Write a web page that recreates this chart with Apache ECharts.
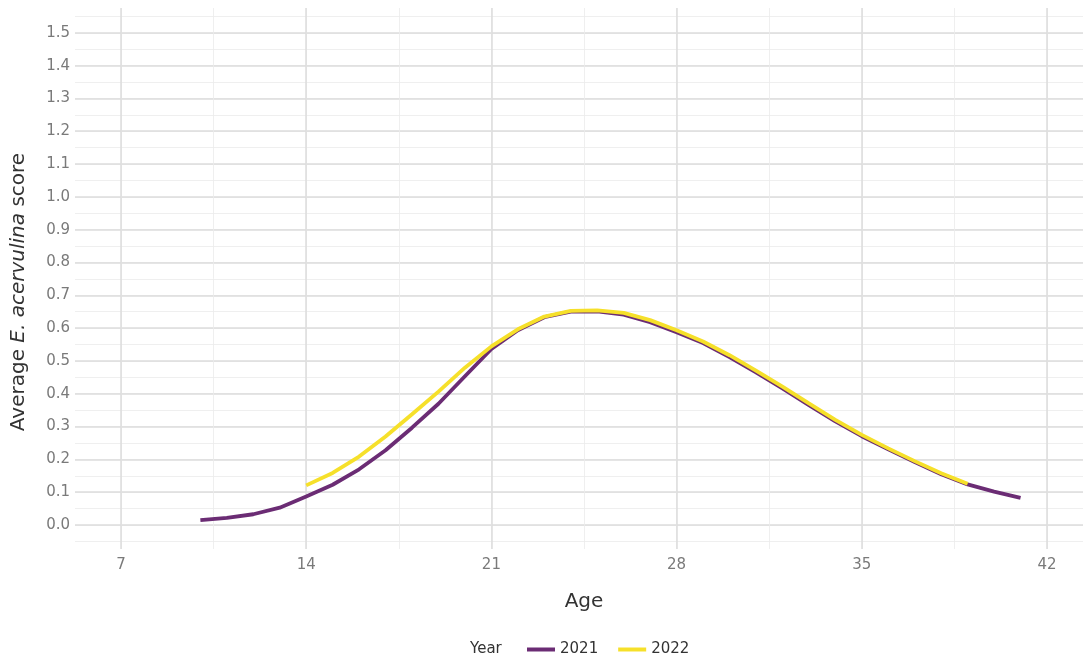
<!DOCTYPE html>
<html>
<head>
<meta charset="utf-8">
<script src="https://cdn.jsdelivr.net/npm/echarts@6/dist/echarts.min.js"></script>
<style>
html,body{margin:0;padding:0;background:#fff;}
#chart{width:1083px;height:659px;}
</style>
</head>
<body>
<div id="chart"></div>
<script>
// ---- data ----
const ages2021 = [10,11,12,13,14,15,16,17,18,19,20,21,22,23,24,25,26,27,28,29,30,31,32,33,34,35,36,37,38,39,40,41];
const score2021 = [0.013,0.020,0.031,0.051,0.085,0.121,0.168,0.226,0.295,0.368,0.452,0.535,0.592,0.632,0.649,0.650,0.640,0.617,0.586,0.553,0.510,0.464,0.415,0.364,0.314,0.269,0.229,0.190,0.153,0.122,0.100,0.081];
const ages2022 = [14,15,16,17,18,19,20,21,22,23,24,25,26,27,28,29,30,31,32,33,34,35,36,37,38,39];
const score2022 = [0.119,0.157,0.207,0.268,0.336,0.405,0.478,0.543,0.595,0.634,0.651,0.653,0.645,0.623,0.592,0.558,0.516,0.469,0.420,0.369,0.319,0.273,0.232,0.193,0.156,0.124];
const yearLabels = ['2021','2022'];
const xTitle = 'Age';
const yTitle = 'Average {i|E. acervulina} score';
const legendTitle = 'Year';

const FONT = 'DejaVu Sans';
const colors = ['#6b2c74','#f6e02a'];
const MAJOR = {color:'#dcdcdc', width:1.5};
const MINOR = {color:'#ebebeb', width:0.8};

const chart = echarts.init(document.getElementById('chart'), null, {renderer:'canvas'});

const noLine = {axisLine:{show:false}, axisTick:{show:false}};

const option = {
  backgroundColor:'#ffffff',
  animation:false,
  textStyle:{fontFamily:FONT},
  grid:[
    // horizontal gridlines + y labels (full panel width); y range -0.1..1.6
    {left:75, right:-10, top:-0.8, bottom:101.2, containLabel:false},
    // vertical gridlines + x labels + data; x range 7..42, y range -0.075..1.575
    {left:121, right:36, top:8, bottom:110, containLabel:false}
  ],
  xAxis:[
    {gridIndex:0, type:'value', min:0, max:1, show:false},
    Object.assign({gridIndex:1, type:'value', position:'bottom', min:7, max:42, interval:3.5,
      axisLabel:{show:false},
      splitLine:{show:true, lineStyle:MINOR}}, noLine),
    Object.assign({gridIndex:1, type:'value', position:'bottom', min:7, max:42, interval:7,
      name:xTitle, nameLocation:'middle', nameGap:43,
      nameTextStyle:{fontFamily:FONT, fontSize:20, color:'#333333'},
      axisLabel:{show:true, margin:9, fontSize:15, color:'#7a7a7a', fontFamily:FONT},
      splitLine:{show:true, lineStyle:MAJOR}}, noLine)
  ],
  yAxis:[
    Object.assign({gridIndex:0, type:'value', position:'left', min:-0.1, max:1.6, interval:0.05,
      axisLabel:{show:false},
      splitLine:{show:true, showMinLine:false, showMaxLine:false, lineStyle:MINOR}}, noLine),
    Object.assign({gridIndex:0, type:'value', position:'left', min:-0.1, max:1.6, interval:0.1,
      axisLabel:{show:true, showMinLabel:false, showMaxLabel:false, margin:5, fontSize:15, color:'#7a7a7a', fontFamily:FONT,
        formatter:function(v){return v.toFixed(1);}},
      splitLine:{show:true, showMinLine:false, showMaxLine:false, lineStyle:MAJOR}}, noLine),
    {gridIndex:1, type:'value', min:-0.075, max:1.575, show:false, splitLine:{show:false}}
  ],
  legend:{
    show:true, left:527, top:642, orient:'horizontal', padding:0,
    icon:'rect', itemWidth:28, itemHeight:4, itemGap:20,
    textStyle:{fontFamily:FONT, fontSize:15, color:'#333333'},
    data:yearLabels
  },
  graphic:[
    {type:'text', left:470, top:642, style:{text:legendTitle, font:'15px "DejaVu Sans"', fill:'#333333'}},
    {type:'text', x:19, y:292, rotation:Math.PI/2,
      style:{text:yTitle, fontFamily:FONT, fontSize:20, fill:'#333333', align:'center', verticalAlign:'middle',
        rich:{i:{fontStyle:'italic', fontFamily:FONT, fontSize:20, fill:'#333333'}}}}
  ],
  series:[
    {name:yearLabels[0], type:'line', xAxisIndex:2, yAxisIndex:2, showSymbol:false, symbol:'none', z:3,
      lineStyle:{color:colors[0], width:3.8}, itemStyle:{color:colors[0]},
      data:ages2021.map((a,i)=>[a,score2021[i]])},
    {name:yearLabels[1], type:'line', xAxisIndex:2, yAxisIndex:2, showSymbol:false, symbol:'none', z:4,
      lineStyle:{color:colors[1], width:3.8}, itemStyle:{color:colors[1]},
      data:ages2022.map((a,i)=>[a,score2022[i]])}
  ]
};
chart.setOption(option);
</script>
</body>
</html>
